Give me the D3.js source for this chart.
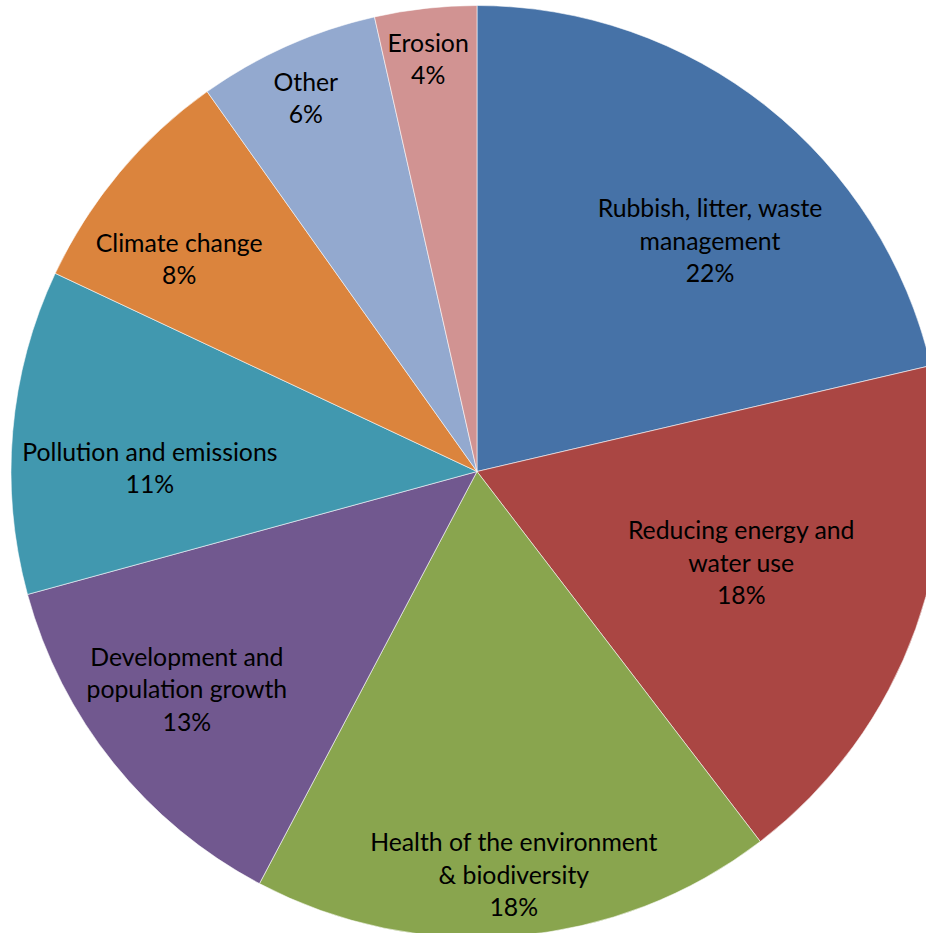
<!DOCTYPE html>
<html>
<head>
<meta charset="utf-8">
<script src="https://cdn.jsdelivr.net/npm/d3@7/dist/d3.min.js"></script>
<style>
  html, body { margin: 0; padding: 0; background: #fff; }
  svg { display: block; }
  text { font-family: Lato, "Open Sans", sans-serif; fill: #000; }
</style>
</head>
<body>
<script>
// ---- data ----
const categories = [
  "Rubbish, litter, waste\nmanagement",
  "Reducing energy and\nwater use",
  "Health of the environment\n& biodiversity",
  "Development and\npopulation growth",
  "Pollution and emissions",
  "Climate change",
  "Other",
  "Erosion"
];
const values = [21.35, 18.25, 18.13, 13.02, 11.24, 8.18, 6.30, 3.53];
const percentLabels = ["22%", "18%", "18%", "13%", "11%", "8%", "6%", "4%"];
const colors = ["#4672A7", "#AA4643", "#89A54E", "#71588F", "#4198AF", "#DB843D", "#93A9CF", "#D19392"];

// ---- layout ----
const W = 926, H = 933;
const cx = 477, cy = 471.5, R = 466;
// label placement: [angle shift from slice middle (deg), distance as fraction of radius]
const labelLayout = [[6.9, 0.703], [-0.6, 0.600], [-0.4, 0.870], [1.8, 0.779],
                     [-4.4, 0.702], [-4.4, 0.785], [-0.6, 0.881], [-0.4, 0.891]];
const fontSize = 24.8, lineH = 32.5;

const svg = d3.select("body").append("svg").attr("width", W).attr("height", H);
svg.append("rect").attr("width", W).attr("height", H).attr("fill", "#fff");

const g = svg.append("g").attr("transform", `translate(${cx},${cy})`);
const pie = d3.pie().sort(null).value(d => d.value).startAngle(0).endAngle(2 * Math.PI);
const data = categories.map((c, i) => ({ name: c, value: values[i], pct: percentLabels[i], color: colors[i] }));
const arcs = pie(data);
const arc = d3.arc().innerRadius(0).outerRadius(R);

g.selectAll("path.slice").data(arcs).join("path")
  .attr("class", "slice")
  .attr("d", arc)
  .attr("fill", d => d.data.color)
  .attr("stroke", "#ffffff")
  .attr("stroke-opacity", 0.7)
  .attr("stroke-width", 0.8);

const labels = g.selectAll("g.lbl").data(arcs).join("g").attr("class", "lbl")
  .attr("transform", (d, i) => {
    const a = (d.startAngle + d.endAngle) / 2 + labelLayout[i][0] * Math.PI / 180;
    const r = labelLayout[i][1] * R;
    return `translate(${r * Math.sin(a)},${-r * Math.cos(a)})`;
  });

labels.each(function (d) {
  const lines = d.data.name.split("\n").concat([d.data.pct]);
  const n = lines.length;
  const t = d3.select(this).append("text")
    .attr("text-anchor", "middle")
    .attr("font-size", fontSize);
  lines.forEach((ln, k) => {
    t.append("tspan")
      .attr("x", 0)
      .attr("y", (k - (n - 1) / 2) * lineH + fontSize * 0.35)
      .text(ln);
  });
});
</script>
</body>
</html>
